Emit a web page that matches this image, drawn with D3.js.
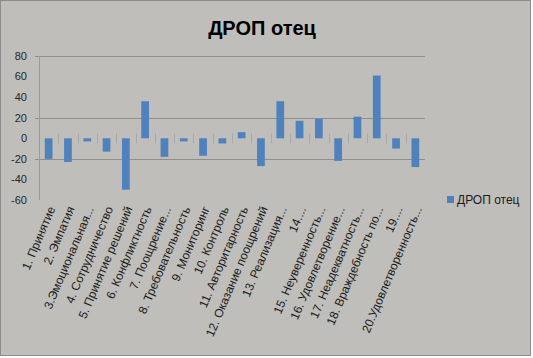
<!DOCTYPE html>
<html>
<head>
<meta charset="utf-8">
<script src="https://cdn.jsdelivr.net/npm/d3@7"></script>
<style>
  body { margin: 0; background: #fff; }
  text { font-family: "Liberation Sans", Arial, sans-serif; }
</style>
</head>
<body>
<svg id="chart" width="533" height="358"></svg>
<script>
var categories = [
  "1. Принятие", "2. Эмпатия", "3.Эмоциональная...", "4. Сотрудничество",
  "5. Принятие решений", "6. Конфликтность", "7. Поощрение...",
  "8. Требовательность", "9. Мониторинг", "10. Контроль",
  "11. Авторитарность", "12. Оказание поощрений", "13. Реализация...",
  "14....", "15. Неуверенность...", "16. Удовлетворение...",
  "17. Неадекватность...", "18. Враждебность по...", "19....",
  "20.Удовлетворенность..."
];
var values = [-20, -23, -3, -13, -50, 36, -18, -3, -17, -5, 6, -27, 36, 17, 19, -22, 21, 61, -10, -28];
var yTicks = [80, 60, 40, 20, 0, -20, -40, -60];
var gridValues = [80, 20, -20];
var seriesName = "ДРОП отец";

var svg = d3.select("#chart");

// chart area background + border
svg.append("rect")
    .attr("x", 0.5).attr("y", 0.5)
    .attr("width", 530).attr("height", 355)
    .attr("fill", "#bfbebb")
    .attr("stroke", "#8c8c8c");

var plotLeft = 39, plotRight = 425, plotTop = 56, plotBottom = 200;

var y = d3.scaleLinear()
    .domain([-60, 80])
    .range([plotBottom, plotTop]);

var x = d3.scaleBand()
    .domain(categories)
    .range([plotLeft, plotRight])
    .paddingInner(0.6)
    .paddingOuter(0.3);

var step = x.step();

// gridlines
svg.append("g").selectAll("line")
    .data(gridValues)
  .enter().append("line")
    .attr("x1", plotLeft - 4).attr("x2", plotRight)
    .attr("y1", function(d) { return Math.round(y(d)) + 0.5; })
    .attr("y2", function(d) { return Math.round(y(d)) + 0.5; })
    .attr("stroke", "#8e8e8e");

// y axis line
svg.append("line")
    .attr("x1", plotLeft + 0.5).attr("x2", plotLeft + 0.5)
    .attr("y1", plotTop).attr("y2", plotBottom)
    .attr("stroke", "#9a9a9a");

// y tick labels
svg.append("g").selectAll("text")
    .data(yTicks)
  .enter().append("text")
    .attr("x", 27)
    .attr("y", function(d) { return y(d); })
    .attr("dy", "0.35em")
    .attr("text-anchor", "end")
    .attr("font-size", 11)
    .attr("fill", "#262626")
    .text(function(d) { return d; });

// category boundary ticks around zero
var y0 = y(0);
svg.append("g").selectAll("line")
    .data(categories.slice(1))
  .enter().append("line")
    .attr("x1", function(d) { return Math.round(x(d) - (step - x.bandwidth()) / 2) + 0.5; })
    .attr("x2", function(d) { return Math.round(x(d) - (step - x.bandwidth()) / 2) + 0.5; })
    .attr("y1", y0 - 5).attr("y2", y0 + 5)
    .attr("stroke", "#a8a8a8");

// bars
svg.append("g").selectAll("rect")
    .data(values)
  .enter().append("rect")
    .attr("x", function(d, i) { return x(categories[i]); })
    .attr("y", function(d) { return y(Math.max(0, d)); })
    .attr("width", x.bandwidth())
    .attr("height", function(d) { return Math.abs(y(d) - y(0)); })
    .attr("fill", "#4f81bd");

// x labels
svg.append("g").selectAll("text")
    .data(categories)
  .enter().append("text")
    .attr("transform", function(d) {
      return "translate(" + (x(d) + x.bandwidth() / 2 + 3) + ",207) rotate(-67)";
    })
    .attr("dy", "0.35em")
    .attr("text-anchor", "end")
    .attr("font-size", 12)
    .attr("fill", "#1a1a1a")
    .text(function(d) { return d; });

// title
svg.append("text")
    .attr("x", 262).attr("y", 35)
    .attr("text-anchor", "middle")
    .attr("font-size", 20)
    .attr("font-weight", "bold")
    .attr("fill", "#000")
    .text(seriesName);

// legend
svg.append("rect")
    .attr("x", 447).attr("y", 196)
    .attr("width", 7).attr("height", 7)
    .attr("fill", "#4f81bd");
svg.append("text")
    .attr("x", 457).attr("y", 204)
    .attr("font-size", 12)
    .attr("fill", "#1a1a1a")
    .text(seriesName);
</script>
</body>
</html>
